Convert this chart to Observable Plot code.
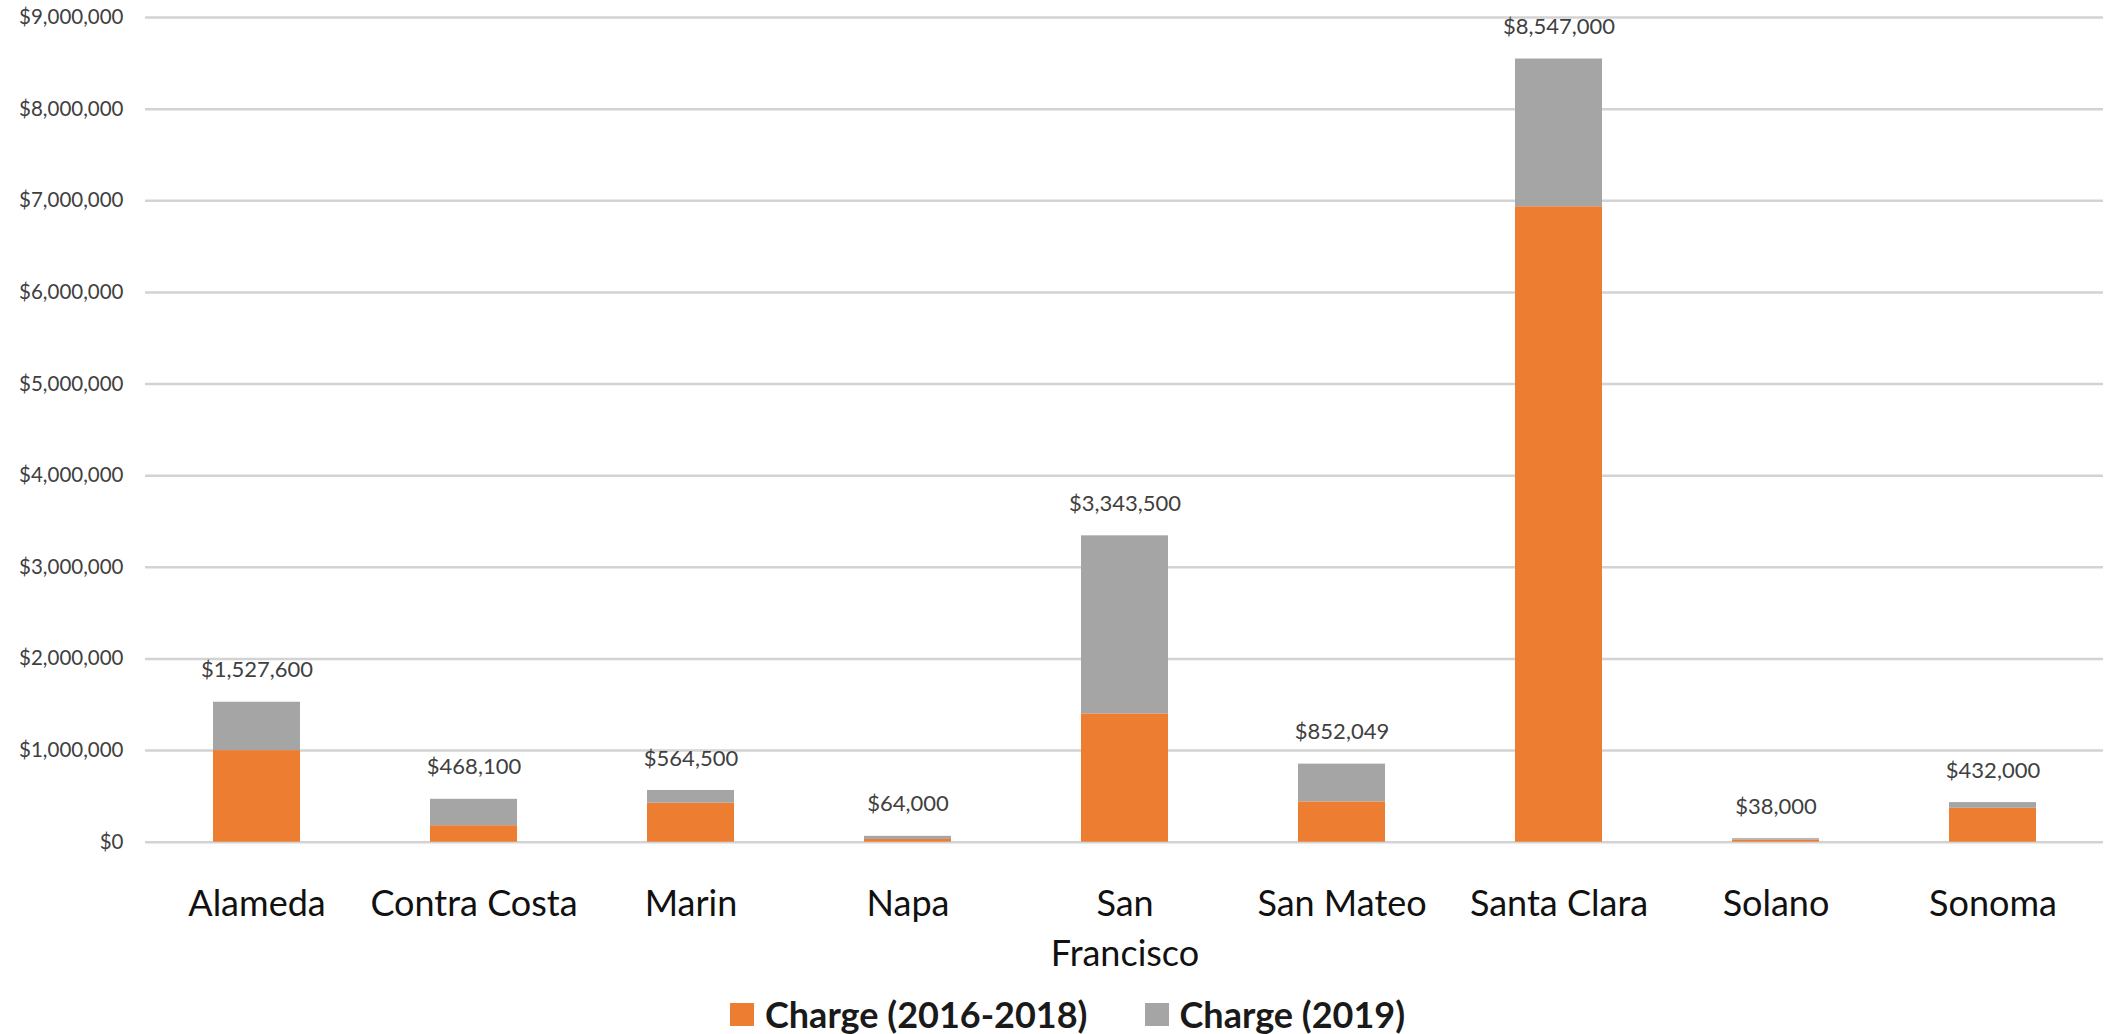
<!DOCTYPE html>
<html>
<head>
<meta charset="utf-8">
<script src="https://cdn.jsdelivr.net/npm/d3@7"></script>
<script src="https://cdn.jsdelivr.net/npm/@observablehq/plot@0.6"></script>
<style>
  html, body { margin: 0; padding: 0; background: #fff; }
  body { width: 2107px; height: 1034px; overflow: hidden; font-family: Lato, "Open Sans", sans-serif; }
  #legend { display: flex; align-items: center; margin-left: 730px; margin-top: 2px; height: 44px;
            font-family: Lato, sans-serif; font-weight: bold; font-size: 36px; color: #1a1a1a; }
  .sw { width: 24px; height: 23px; margin-right: 11px; }
  .item { display: flex; align-items: center; margin-right: 57px; }
</style>
</head>
<body>
<div id="chart"></div>
<div id="legend"></div>
<script>
const counties = ["Alameda", "Contra Costa", "Marin", "Napa", "San Francisco", "San Mateo", "Santa Clara", "Solano", "Sonoma"];
const charge2016_2018 = [1000000, 180000, 425000, 30000, 1400000, 440000, 6935000, 22000, 370000];
const charge2019 = [527600, 288100, 139500, 34000, 1943500, 412049, 1612000, 16000, 62000];
const totalLabels = ["$1,527,600", "$468,100", "$564,500", "$64,000", "$3,343,500", "$852,049", "$8,547,000", "$38,000", "$432,000"];
const seriesNames = ["Charge (2016-2018)", "Charge (2019)"];
const seriesColors = ["#ED7D31", "#A5A5A5"];
const yTicks = [0, 1000000, 2000000, 3000000, 4000000, 5000000, 6000000, 7000000, 8000000, 9000000];

const rows = [];
counties.forEach((c, i) => {
  rows.push({county: c, series: seriesNames[0], value: charge2016_2018[i]});
  rows.push({county: c, series: seriesNames[1], value: charge2019[i]});
});
const totals = counties.map((c, i) => ({county: c, total: charge2016_2018[i] + charge2019[i], label: totalLabels[i]}));

const H = 990;
const chart = Plot.plot({
  width: 2107,
  height: H,
  marginLeft: 145,
  marginRight: 4,
  marginTop: 17,
  marginBottom: H - 841.7,
  style: {fontFamily: "Lato, sans-serif", background: "#fff"},
  x: {domain: counties, paddingInner: 0.6, paddingOuter: 0.3, label: null},
  y: {domain: [0, 9000000], label: null},
  color: {domain: seriesNames, range: seriesColors},
  marks: [
    Plot.ruleY(yTicks, {stroke: "#d3d3d3", strokeWidth: 2.5}),
    Plot.barY(rows, {x: "county", y: "value", fill: "series", order: seriesNames}),
    Plot.text(totals, {x: "county", y: "total", text: "label", dy: -32, fontSize: 22, fill: "#404040", lineAnchor: "middle"}),
    Plot.axisY({ticks: yTicks, tickSize: 0, tickPadding: 22, fontSize: 20.5, color: "#404040",
      tickFormat: d => "$" + d3.format(",")(d), label: null}),
    Plot.axisX({tickSize: 0, tickPadding: 38, fontSize: 36, color: "#111", lineHeight: 1.39,
      tickFormat: d => d === "San Francisco" ? "San\nFrancisco" : d, label: null})
  ]
});
document.getElementById("chart").appendChild(chart);

const legend = document.getElementById("legend");
seriesNames.forEach((s, i) => {
  const item = document.createElement("div");
  item.className = "item";
  const sw = document.createElement("div");
  sw.className = "sw";
  sw.style.background = seriesColors[i];
  const t = document.createElement("span");
  t.textContent = s;
  item.appendChild(sw); item.appendChild(t);
  legend.appendChild(item);
});
</script>
</body>
</html>
